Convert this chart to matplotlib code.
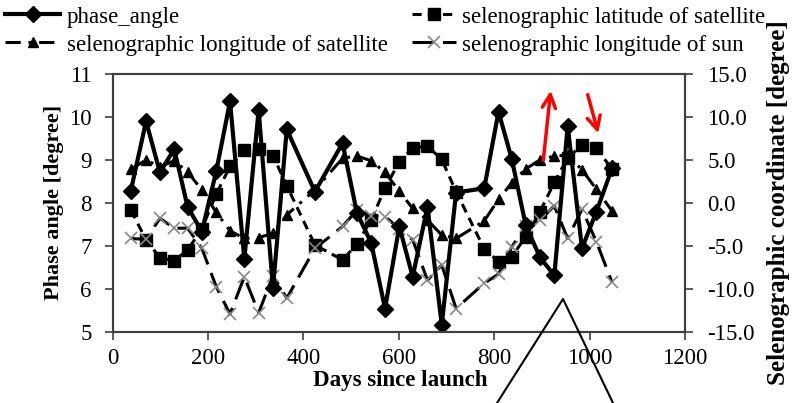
import numpy as np
import matplotlib
matplotlib.use("Agg")
import matplotlib.pyplot as plt
from matplotlib.lines import Line2D
from matplotlib.patches import FancyArrowPatch

plt.rcParams['font.family'] = ['Liberation Serif', 'DejaVu Serif']

# Days since launch (same sampling for every series)
days = [38, 70, 99, 129, 157, 187, 217, 246, 276, 306, 336, 365, 424, 482,
        512, 542, 571, 601, 629, 660, 690, 720, 779, 809, 837, 866, 896, 926,
        954, 984, 1014, 1047]

# Phase angle [degree] (left axis)
phase_angle = [8.28, 9.9, 8.71, 9.25, 7.91, 7.33, 8.73, 10.36, 6.69, 10.16,
               6.01, 9.71, 8.26, 9.39, 7.77, 7.07, 5.54, 7.45, 6.28, 7.91,
               5.16, 8.24, 8.34, 10.12, 9.01, 7.48, 6.73, 6.31, 9.79, 6.94,
               7.79, 8.80]

# Selenographic coordinates [degree] (right axis)
lat_sat = [-0.85, -4.3, -6.4, -6.75, -5.5, -3.0, 1.0, 4.25, 6.1, 6.25, 5.5,
           2.0, -4.9, -6.65, -4.8, -2.0, 1.7, 4.8, 6.4, 6.6, 5.05, 1.3,
           -5.35, -6.85, -6.25, -3.95, -1.05, 2.4, 5.25, 6.7, 6.35, 3.95]
lon_sat = [3.9, 5.0, 4.2, 4.9, 3.6, 1.5, -1.1, -3.25, -4.15, -4.05, -3.55,
           -1.4, 1.5, 5.2, 5.45, 4.9, 3.55, 1.35, -0.65, -2.0, -3.75, -4.15,
           -2.1, 0.4, 2.35, 3.95, 5.0, 5.45, 5.55, 3.85, 1.6, -0.95]
lon_sun = [-4.15, -4.25, -1.8, -2.95, -2.95, -5.3, -9.75, -12.95, -8.6,
           -12.8, -8.5, -11.1, -5.3, -2.75, -0.85, -1.5, -1.6, -3.0, -4.3,
           -9.0, -7.25, -12.3, -9.35, -8.3, -5.1, -2.75, -2.0, -0.35, -4.15,
           -0.75, -4.5, -9.25]

W, H = 798, 403
fig = plt.figure(figsize=(W / 100, H / 100), dpi=100)
ax = fig.add_axes([112.7 / W, 1 - 331.7 / H, (685 - 112.7) / W, (331.7 - 74) / H])
ax2 = ax.twinx()

# Right-axis series
l_lat, = ax2.plot(days, lat_sat, color='black', lw=2.2, ls=(0, (3, 2)),
                  marker='s', ms=8, mfc='black', mec='black')
l_lon, = ax2.plot(days, lon_sat, color='black', lw=2.2, ls=(0, (5, 2.5, 1, 2.5)),
                  marker='^', ms=7, mfc='black', mec='black')
l_sun, = ax2.plot(days, lon_sun, color='black', lw=2.2, ls=(0, (7, 3)),
                  marker='x', ms=9, mew=1.2, mec='#888888')

# Left-axis series, drawn on top
l_ph, = ax.plot(days, phase_angle, color='black', lw=3, marker='D', ms=8,
                mfc='black', mec='black')
ax.set_zorder(ax2.get_zorder() + 1)
ax.patch.set_visible(False)

ax.set_xlim(0, 1200)
ax.set_ylim(5, 11)
ax2.set_ylim(-15, 15)
ax.set_xticks(range(0, 1201, 200))
ax.set_yticks(range(5, 12))
ax2.set_yticks(np.arange(-15, 16, 5))
ax2.set_yticklabels([f'{v:.1f}' for v in np.arange(-15, 16, 5)])

for a in (ax, ax2):
    a.tick_params(direction='out', length=6, width=1.2, color='#404040',
                  labelsize=16.5)
    for s in a.spines.values():
        s.set_color('#404040')
        s.set_linewidth(1.5)
ax.tick_params(axis='x', pad=6)
ax.tick_params(axis='y', pad=9)
ax2.tick_params(axis='y', pad=10)

ax.set_xlabel('Days since launch', fontsize=16.5, fontweight='bold')
ax.xaxis.set_label_coords(0.502, -0.15)
ax.set_ylabel('Phase angle [degree]', fontsize=16, fontweight='bold', labelpad=4)
ax2.set_ylabel('Selenographic coordinate [degree]', fontsize=18,
               fontweight='bold')
ax2.yaxis.set_label_coords(1.143, 0.5)

# Legend entries placed individually, as in the original
entries = [
    (l_ph, 'phase_angle', 5, 17, 2.4),
    (l_lat, 'selenographic latitude of satellite', 412, 17, 1.9),
    (l_lon, 'selenographic longitude of satellite', 5, 45, 2.4),
    (l_sun, 'selenographic longitude of sun', 412, 45, 1.9),
]
for h, lab, px, py, hl in entries:
    fig.legend([h], [lab], loc='center left',
               bbox_to_anchor=(px / W, 1 - py / H), frameon=False,
               borderpad=0, borderaxespad=0, handlelength=hl,
               handletextpad=0.3, fontsize=16.5, numpoints=1)

# Annotations overlaid on the figure
fig.add_artist(FancyArrowPatch((543 / W, 1 - 163 / H), (551 / W, 1 - 88 / H),
                               transform=fig.transFigure, arrowstyle='->',
                               mutation_scale=24, color='red', lw=2.5))
fig.add_artist(FancyArrowPatch((587 / W, 1 - 92 / H), (599 / W, 1 - 136 / H),
                               transform=fig.transFigure, arrowstyle='->',
                               mutation_scale=24, color='red', lw=2.5))
fig.add_artist(Line2D([497 / W, 563 / W, 613 / W],
                      [1 - 403 / H, 1 - 299 / H, 1 - 403 / H],
                      transform=fig.transFigure, color='black', lw=1.5))

fig.savefig('out.png', dpi=100)
